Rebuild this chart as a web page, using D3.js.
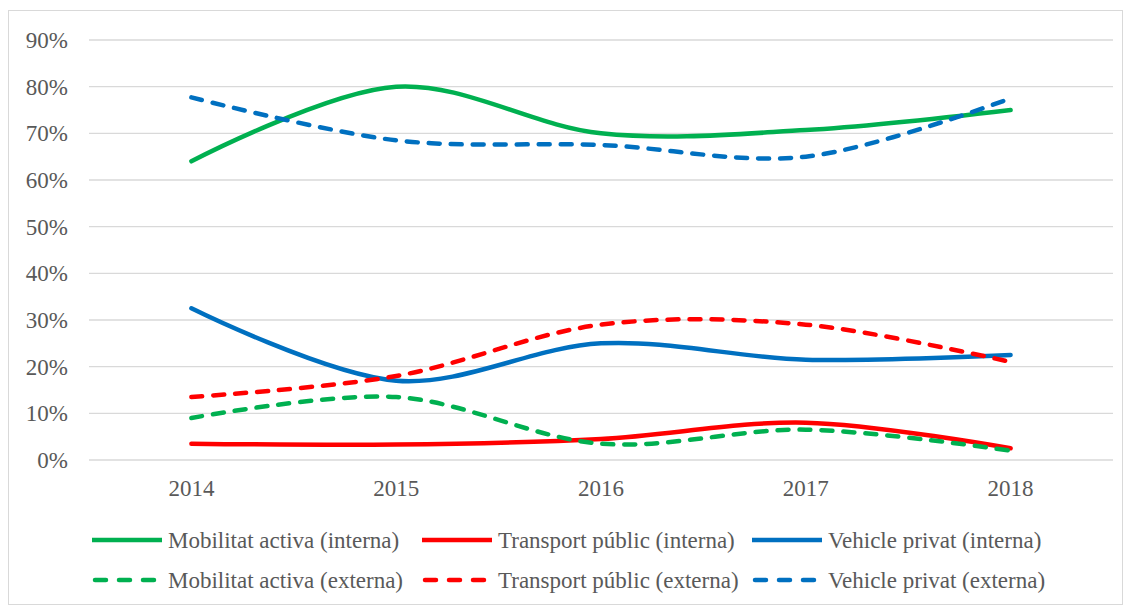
<!DOCTYPE html>
<html>
<head>
<meta charset="utf-8">
<script src="https://cdn.jsdelivr.net/npm/d3@7"></script>
<style>
  body { margin: 0; background: #fff; }
</style>
</head>
<body>
<svg id="chart" width="1131" height="608"></svg>
<script>

// data
var years = ["2014", "2015", "2016", "2017", "2018"];
var yTicks = [0, 0.1, 0.2, 0.3, 0.4, 0.5, 0.6, 0.7, 0.8, 0.9];

var activaInterna   = [0.64, 0.80, 0.70, 0.707, 0.75];
var publicInterna   = [0.035, 0.033, 0.045, 0.08, 0.025];
var privatInterna   = [0.325, 0.17, 0.25, 0.215, 0.225];
var activaExterna   = [0.09, 0.135, 0.035, 0.065, 0.02];
var publicExterna   = [0.135, 0.18, 0.29, 0.29, 0.21];
var privatExterna   = [0.777, 0.685, 0.675, 0.65, 0.775];

var seriesNames = [
    "Mobilitat activa (interna)", "Transport públic (interna)", "Vehicle privat (interna)",
    "Mobilitat activa (externa)", "Transport públic (externa)", "Vehicle privat (externa)"
];

var green = "#00B050", red = "#FF0000", blue = "#0070C0";
var fontFam = "'Times New Roman', 'Liberation Serif', 'DejaVu Serif', serif";

var series = [
    {name: seriesNames[0], values: activaInterna, color: green, dashed: false},
    {name: seriesNames[1], values: publicInterna, color: red,   dashed: false},
    {name: seriesNames[2], values: privatInterna, color: blue,  dashed: false},
    {name: seriesNames[3], values: activaExterna, color: green, dashed: true},
    {name: seriesNames[4], values: publicExterna, color: red,   dashed: true},
    {name: seriesNames[5], values: privatExterna, color: blue,  dashed: true}
];

var margin = {top: 40, left: 89, right: 18, bottom: 148};
var width = 1131, height = 608;

var svg = d3.select("#chart");

// outer chart border
svg.append("rect")
    .attr("x", 8.5)
    .attr("y", 10.5)
    .attr("width", 1114)
    .attr("height", 594)
    .attr("fill", "none")
    .attr("stroke", "#d9d9d9")
    .attr("stroke-width", 1);

var x = d3.scaleBand()
    .domain(years)
    .range([margin.left, width - margin.right]);

var y = d3.scaleLinear()
    .domain([0, 0.9])
    .range([height - margin.bottom, margin.top]);

// gridlines
svg.append("g")
    .selectAll("line")
    .data(yTicks)
    .enter().append("line")
    .attr("x1", margin.left)
    .attr("x2", width - margin.right)
    .attr("y1", function(d){ return y(d); })
    .attr("y2", function(d){ return y(d); })
    .attr("stroke", "#d9d9d9")
    .attr("stroke-width", 1.3);

// y axis labels
var yAxis = d3.axisLeft(y)
    .tickValues(yTicks)
    .tickFormat(d3.format(".0%"))
    .tickSize(0)
    .tickPadding(21);

var gy = svg.append("g")
    .attr("transform", "translate(" + margin.left + ",0)")
    .call(yAxis)
    .attr("font-family", fontFam)
    .attr("font-size", 23);
gy.select(".domain").remove();
gy.selectAll("text").attr("fill", "#595959");

// x axis labels
var xAxis = d3.axisBottom(x)
    .tickSize(0)
    .tickPadding(20);

var gx = svg.append("g")
    .attr("transform", "translate(0," + y(0) + ")")
    .call(xAxis)
    .attr("font-family", fontFam)
    .attr("font-size", 23);
gx.select(".domain").remove();
gx.selectAll("text").attr("fill", "#595959");

var line = d3.line()
    .x(function(d, i){ return x(years[i]) + x.bandwidth() / 2; })
    .y(function(d){ return y(d); })
    .curve(d3.curveCatmullRom.alpha(0.5));

svg.append("g")
    .selectAll("path")
    .data(series)
    .enter().append("path")
    .attr("d", function(d){ return line(d.values); })
    .attr("fill", "none")
    .attr("stroke", function(d){ return d.color; })
    .attr("stroke-width", 4.5)
    .attr("stroke-linecap", "round")
    .attr("stroke-dasharray", function(d){ return d.dashed ? "11,11" : null; });

// legend
var legendX = [92, 422, 752];
var legendY = [540, 580];

var legend = svg.append("g")
    .attr("font-family", fontFam)
    .attr("font-size", 23)
    .selectAll("g")
    .data(series)
    .enter().append("g")
    .attr("transform", function(d, i){
        return "translate(" + legendX[i % 3] + "," + legendY[Math.floor(i / 3)] + ")";
    });

legend.append("line")
    .attr("x1", 0)
    .attr("x2", 70)
    .attr("y1", 0)
    .attr("y2", 0)
    .attr("stroke", function(d){ return d.color; })
    .attr("stroke-width", 4.5)
    .attr("stroke-linecap", function(d){ return d.dashed ? "round" : "butt"; })
    .attr("stroke-dasharray", function(d){ return d.dashed ? "11,13" : null; })
    .attr("stroke-dashoffset", function(d){ return d.dashed ? -3 : null; });

legend.append("text")
    .attr("x", 76)
    .attr("y", 0)
    .attr("dy", "0.35em")
    .attr("fill", "#595959")
    .text(function(d){ return d.name; });

</script>
</body>
</html>
